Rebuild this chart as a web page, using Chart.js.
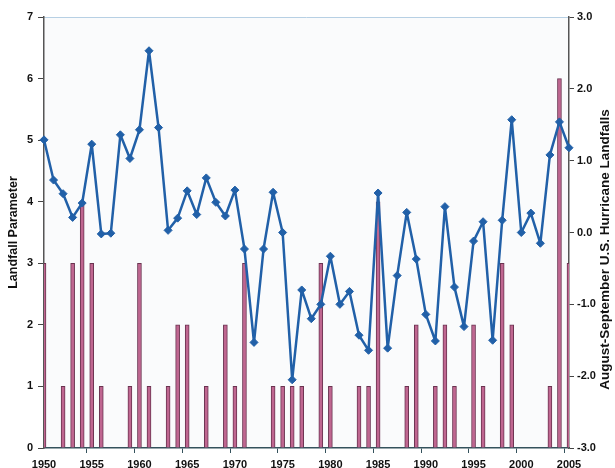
<!DOCTYPE html>
<html>
<head>
<meta charset="utf-8">
<script src="https://cdn.jsdelivr.net/npm/chart.js@4.4.1/dist/chart.umd.min.js"></script>
<style>
  html, body { margin: 0; padding: 0; background: #fff; overflow: hidden; }
</style>
</head>
<body>
<canvas id="chart" width="615" height="468"></canvas>
<script>
// years on the category axis
const years = [
  1950, 1951, 1952, 1953, 1954, 1955, 1956, 1957, 1958, 1959,
  1960, 1961, 1962, 1963, 1964, 1965, 1966, 1967, 1968, 1969,
  1970, 1971, 1972, 1973, 1974, 1975, 1976, 1977, 1978, 1979,
  1980, 1981, 1982, 1983, 1984, 1985, 1986, 1987, 1988, 1989,
  1990, 1991, 1992, 1993, 1994, 1995, 1996, 1997, 1998, 1999,
  2000, 2001, 2002, 2003, 2004, 2005
];

// bars, read on the left axis
const landfalls = [
  3, 0, 1, 3, 4, 3, 1, 0, 0, 1,
  3, 1, 0, 1, 2, 2, 0, 1, 0, 2,
  1, 3, 0, 0, 1, 1, 1, 1, 0, 3,
  1, 0, 0, 1, 1, 4, 0, 0, 1, 2,
  0, 1, 2, 1, 0, 2, 1, 0, 3, 2,
  0, 0, 0, 1, 6, 3
];

// line, read on the right axis
const landfallParameter = [
  1.29, 0.73, 0.54, 0.21, 0.41, 1.23, -0.02, -0.01, 1.36, 1.03,
  1.43, 2.53, 1.46, 0.03, 0.20, 0.58, 0.25, 0.76, 0.42, 0.23,
  0.59, -0.23, -1.53, -0.23, 0.56, 0.00, -2.05, -0.80, -1.20, -1.00,
  -0.33, -1.00, -0.82, -1.43, -1.64, 0.55, -1.61, -0.60, 0.28, -0.37,
  -1.14, -1.51, 0.36, -0.76, -1.31, -0.12, 0.15, -1.50, 0.17, 1.57,
  0.00, 0.27, -0.15, 1.08, 1.54, 1.18
];

const labeledYears = [1950, 1955, 1960, 1965, 1970, 1975, 1980, 1985, 1990, 1995, 2000, 2005];
const leftTitle = 'Landfall Parameter';
const rightTitle = 'August-September U.S. Hurricane Landfalls';

Chart.defaults.font.family = '"Liberation Sans", Arial, sans-serif';
Chart.defaults.font.weight = 'bold';
Chart.defaults.font.size = 11;
Chart.defaults.color = '#111';

// light plot background and the thin blue top line
const plotFrame = {
  id: 'plotFrame',
  beforeDraw(chart) {
    const { ctx, chartArea: a } = chart;
    ctx.save();
    ctx.fillStyle = '#fafbfc';
    ctx.fillRect(a.left, a.top, a.right - a.left, a.bottom - a.top);
    ctx.strokeStyle = '#b7d0e4';
    ctx.lineWidth = 1;
    ctx.beginPath();
    ctx.moveTo(a.left, a.top + 0.5);
    ctx.lineTo(a.right, a.top + 0.5);
    ctx.stroke();
    ctx.restore();
  }
};

// right title reads bottom to top, like the left one
const rightAxisTitle = {
  id: 'rightAxisTitle',
  afterDraw(chart) {
    const { ctx, chartArea: a } = chart;
    ctx.save();
    ctx.translate(605, (a.top + a.bottom) / 2 + 17);
    ctx.rotate(-Math.PI / 2);
    ctx.font = 'bold 13.5px "Liberation Sans", Arial, sans-serif';
    ctx.fillStyle = '#111';
    ctx.textAlign = 'center';
    ctx.textBaseline = 'middle';
    ctx.fillText(rightTitle, 0, 0);
    ctx.restore();
  }
};

const ctx = document.getElementById('chart').getContext('2d');
new Chart(ctx, {
  data: {
    labels: years,
    datasets: [
      {
        type: 'line',
        data: landfallParameter,
        yAxisID: 'yRight',
        borderColor: '#2160a8',
        backgroundColor: '#2160a8',
        borderWidth: 2.5,
        borderJoinStyle: 'round',
        pointStyle: 'rectRot',
        pointRadius: 4,
        pointBorderWidth: 1,
        tension: 0,
        order: 0
      },
      {
        type: 'bar',
        data: landfalls,
        yAxisID: 'yLeft',
        backgroundColor: '#bf6690',
        borderColor: '#6a3350',
        borderWidth: 1,
        barThickness: 4,
        order: 1
      }
    ]
  },
  options: {
    responsive: false,
    animation: false,
    layout: { padding: { top: 17, left: 0, right: 0, bottom: 0 } },
    plugins: { legend: { display: false }, tooltip: { enabled: false } },
    scales: {
      x: {
        type: 'category',
        offset: false,
        border: { color: '#34525c', width: 1.5 },
        grid: {
          drawOnChartArea: false,
          tickLength: 5,
          color: c => labeledYears.includes(years[c.index]) ? '#34525c' : 'rgba(0,0,0,0)'
        },
        ticks: {
          autoSkip: false,
          maxRotation: 0,
          padding: 5,
          callback: (v, i) => labeledYears.includes(years[i]) ? String(years[i]) : ''
        },
        afterFit(s) { s.height = 20; }
      },
      yLeft: {
        position: 'left',
        min: 0,
        max: 7,
        border: { color: '#555', width: 1.5 },
        grid: { drawOnChartArea: false, tickLength: 6, color: '#444' },
        ticks: { stepSize: 1, padding: 5 },
        title: { display: true, text: leftTitle, padding: { top: 6, bottom: 0 }, font: { size: 12.5, weight: 'bold' } },
        afterFit(s) { s.width = 44; }
      },
      yRight: {
        position: 'right',
        min: -3,
        max: 3,
        border: { color: '#555', width: 1.5 },
        grid: { drawOnChartArea: false, tickLength: 5, color: '#444' },
        ticks: { stepSize: 1, padding: 3, callback: v => v.toFixed(1) },
        afterFit(s) { s.width = 46; }
      }
    }
  },
  plugins: [plotFrame, rightAxisTitle]
});
</script>
</body>
</html>
